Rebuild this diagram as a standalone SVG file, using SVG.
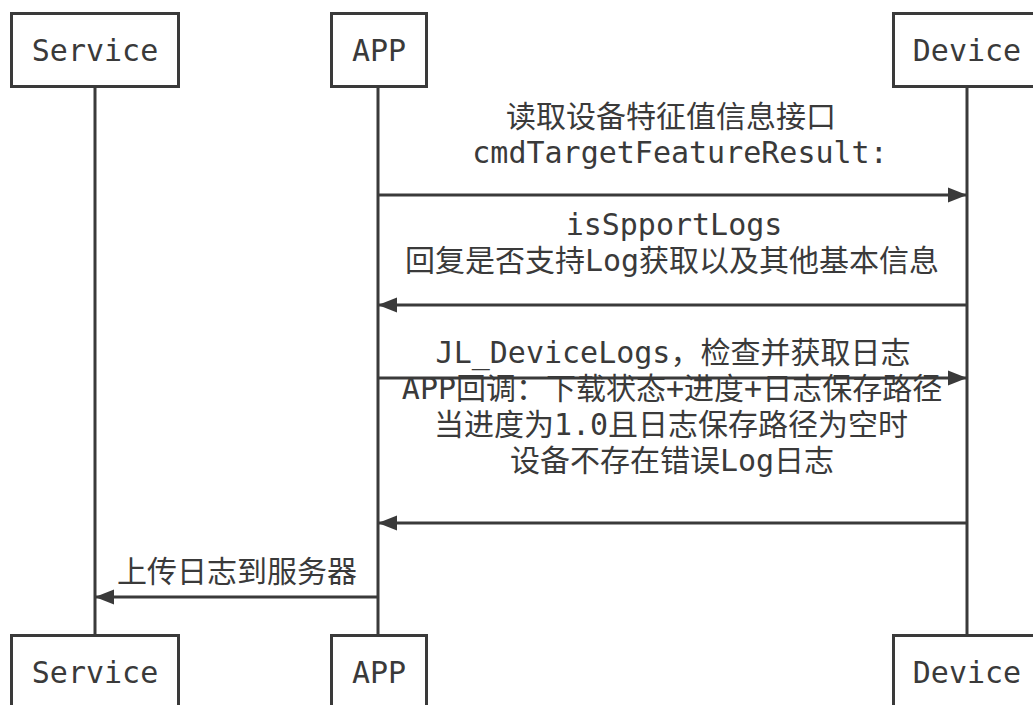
<svg xmlns="http://www.w3.org/2000/svg" width="1033" height="705" viewBox="0 0 1033 705">
  <style>
    .box { fill: #ffffff; stroke: #3a3a3a; stroke-width: 3; }
    .life { stroke: #3a3a3a; stroke-width: 3; fill: none; }
    .msg { stroke: #3a3a3a; stroke-width: 3; fill: none; marker-end: url(#head); }
    text { font-family: "DejaVu Sans Mono", "Noto Sans CJK SC", monospace; font-size: 30px; fill: #3a3a3a; text-anchor: middle; }
  </style>
  <defs>
    <marker id="head" markerUnits="userSpaceOnUse" markerWidth="20" markerHeight="16" refX="19" refY="8" orient="auto">
      <path d="M0,0.5 L19,8 L0,15.5 Z" fill="#3a3a3a"/>
    </marker>
  </defs>
  <rect width="1033" height="705" fill="#ffffff"/>

  <!-- lifelines -->
  <g id="lifelines">
    <line class="life" x1="95" y1="87" x2="95" y2="636"/>
    <line class="life" x1="378" y1="87" x2="378" y2="636"/>
    <line class="life" x1="967" y1="87" x2="967" y2="636"/>
  </g>

  <!-- participants, top -->
  <g id="service-top">
    <rect class="box" x="11.5" y="13.5" width="167" height="73"/>
    <text x="95" y="61">Service</text>
  </g>
  <g id="app-top">
    <rect class="box" x="331.5" y="13.5" width="95" height="73"/>
    <text x="379" y="61">APP</text>
  </g>
  <g id="device-top">
    <rect class="box" x="893.5" y="13.5" width="147" height="73"/>
    <text x="967" y="61">Device</text>
  </g>

  <!-- participants, bottom -->
  <g id="service-bottom">
    <rect class="box" x="11.5" y="635.5" width="167" height="73"/>
    <text x="95" y="683">Service</text>
  </g>
  <g id="app-bottom">
    <rect class="box" x="331.5" y="635.5" width="95" height="73"/>
    <text x="379" y="683">APP</text>
  </g>
  <g id="device-bottom">
    <rect class="box" x="893.5" y="635.5" width="147" height="73"/>
    <text x="967" y="683">Device</text>
  </g>

  <!-- messages -->
  <g id="connectors">
    <line class="msg" x1="378" y1="195" x2="967" y2="195"/>
    <line class="msg" x1="967" y1="305" x2="378" y2="305"/>
    <line class="msg" x1="378" y1="378" x2="967" y2="378"/>
    <line class="msg" x1="967" y1="523" x2="378" y2="523"/>
    <line class="msg" x1="378" y1="597" x2="95" y2="597"/>
  </g>

  <!-- message labels -->
  <g id="labels">
    <text x="671" y="127">读取设备特征值信息接口</text>
    <text x="680" y="163">cmdTargetFeatureResult:</text>
    <text x="674" y="235">isSpportLogs</text>
    <text x="672" y="271">回复是否支持Log获取以及其他基本信息</text>
    <text x="673" y="363">JL_DeviceLogs，检查并获取日志</text>
    <text x="672" y="399">APP回调：下载状态+进度+日志保存路径</text>
    <text x="671" y="435">当进度为1.0且日志保存路径为空时</text>
    <text x="672" y="471">设备不存在错误Log日志</text>
    <text x="237" y="582">上传日志到服务器</text>
  </g>
</svg>
